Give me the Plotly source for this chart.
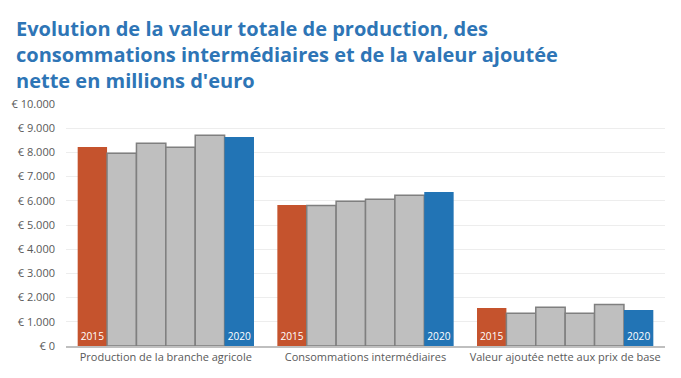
import plotly.graph_objects as go

categories = ["Production de la branche agricole", "Consommations intermédiaires", "Valeur ajoutée nette aux prix de base"]
years = ["2015", "2016", "2017", "2018", "2019", "2020"]
values = {
    "2015": [8220, 5830, 1570],
    "2016": [7960, 5810, 1350],
    "2017": [8380, 5980, 1600],
    "2018": [8210, 6060, 1350],
    "2019": [8710, 6230, 1720],
    "2020": [8640, 6360, 1490],
}
tick_vals = [0, 1000, 2000, 3000, 4000, 5000, 6000, 7000, 8000, 9000, 10000]
tick_text = ["€ 0", "€ 1.000", "€ 2.000", "€ 3.000", "€ 4.000", "€ 5.000",
             "€ 6.000", "€ 7.000", "€ 8.000", "€ 9.000", "€ 10.000"]
title_text = ("Evolution de la valeur totale de production, des<br>"
              "consommations intermédiaires et de la valeur ajoutée<br>"
              "nette en millions d'euro")

colors = {"2015": "#C5532D", "2020": "#2274B5"}
fig = go.Figure()
for y in years:
    highlighted = y in colors
    fig.add_trace(go.Bar(
        x=categories, y=values[y], name=y,
        marker=dict(color=colors.get(y, "#BFBFBF"),
                    line=dict(color="#7F7F7F", width=0 if highlighted else 1.5)),
        text=[y] * 3 if highlighted else None,
        textposition="inside" if highlighted else "none",
        insidetextanchor="start",
        textangle=0,
        textfont=dict(color="white", size=12, family="Open Sans"),
        hoverinfo="x+y",
    ))

fig.update_layout(
    width=681, height=378,
    barmode="group", bargap=0.117, bargroupgap=0,
    showlegend=False,
    paper_bgcolor="white", plot_bgcolor="white",
    margin=dict(l=62, r=16, t=104, b=32),
    font=dict(family="Open Sans", color="#595959", size=11),
    uniformtext=dict(mode="show", minsize=10),
)
fig.add_annotation(
    text=title_text, xref="paper", yref="paper",
    x=(10 - 62) / 603, y=1 + (104 - 13) / 242,
    xanchor="left", yanchor="top", align="left", showarrow=False,
    font=dict(family="Open Sans", size=20, color="#2E75B6", weight="bold"),
)
fig.update_yaxes(range=[0, 10000], tickvals=tick_vals, ticktext=tick_text,
                 showgrid=True, gridcolor="#EDEDED", gridwidth=1, zeroline=False,
                 ticks="", ticklabelstandoff=10, tickfont=dict(size=11, color="#595959"))
fig.update_xaxes(showline=True, linecolor="#BFBFBF", linewidth=2, ticks="",
                 tickfont=dict(size=11, color="#595959"))
fig.write_html("out.html", config={"displayModeBar": False},
               post_script="document.body.style.margin='0';")
